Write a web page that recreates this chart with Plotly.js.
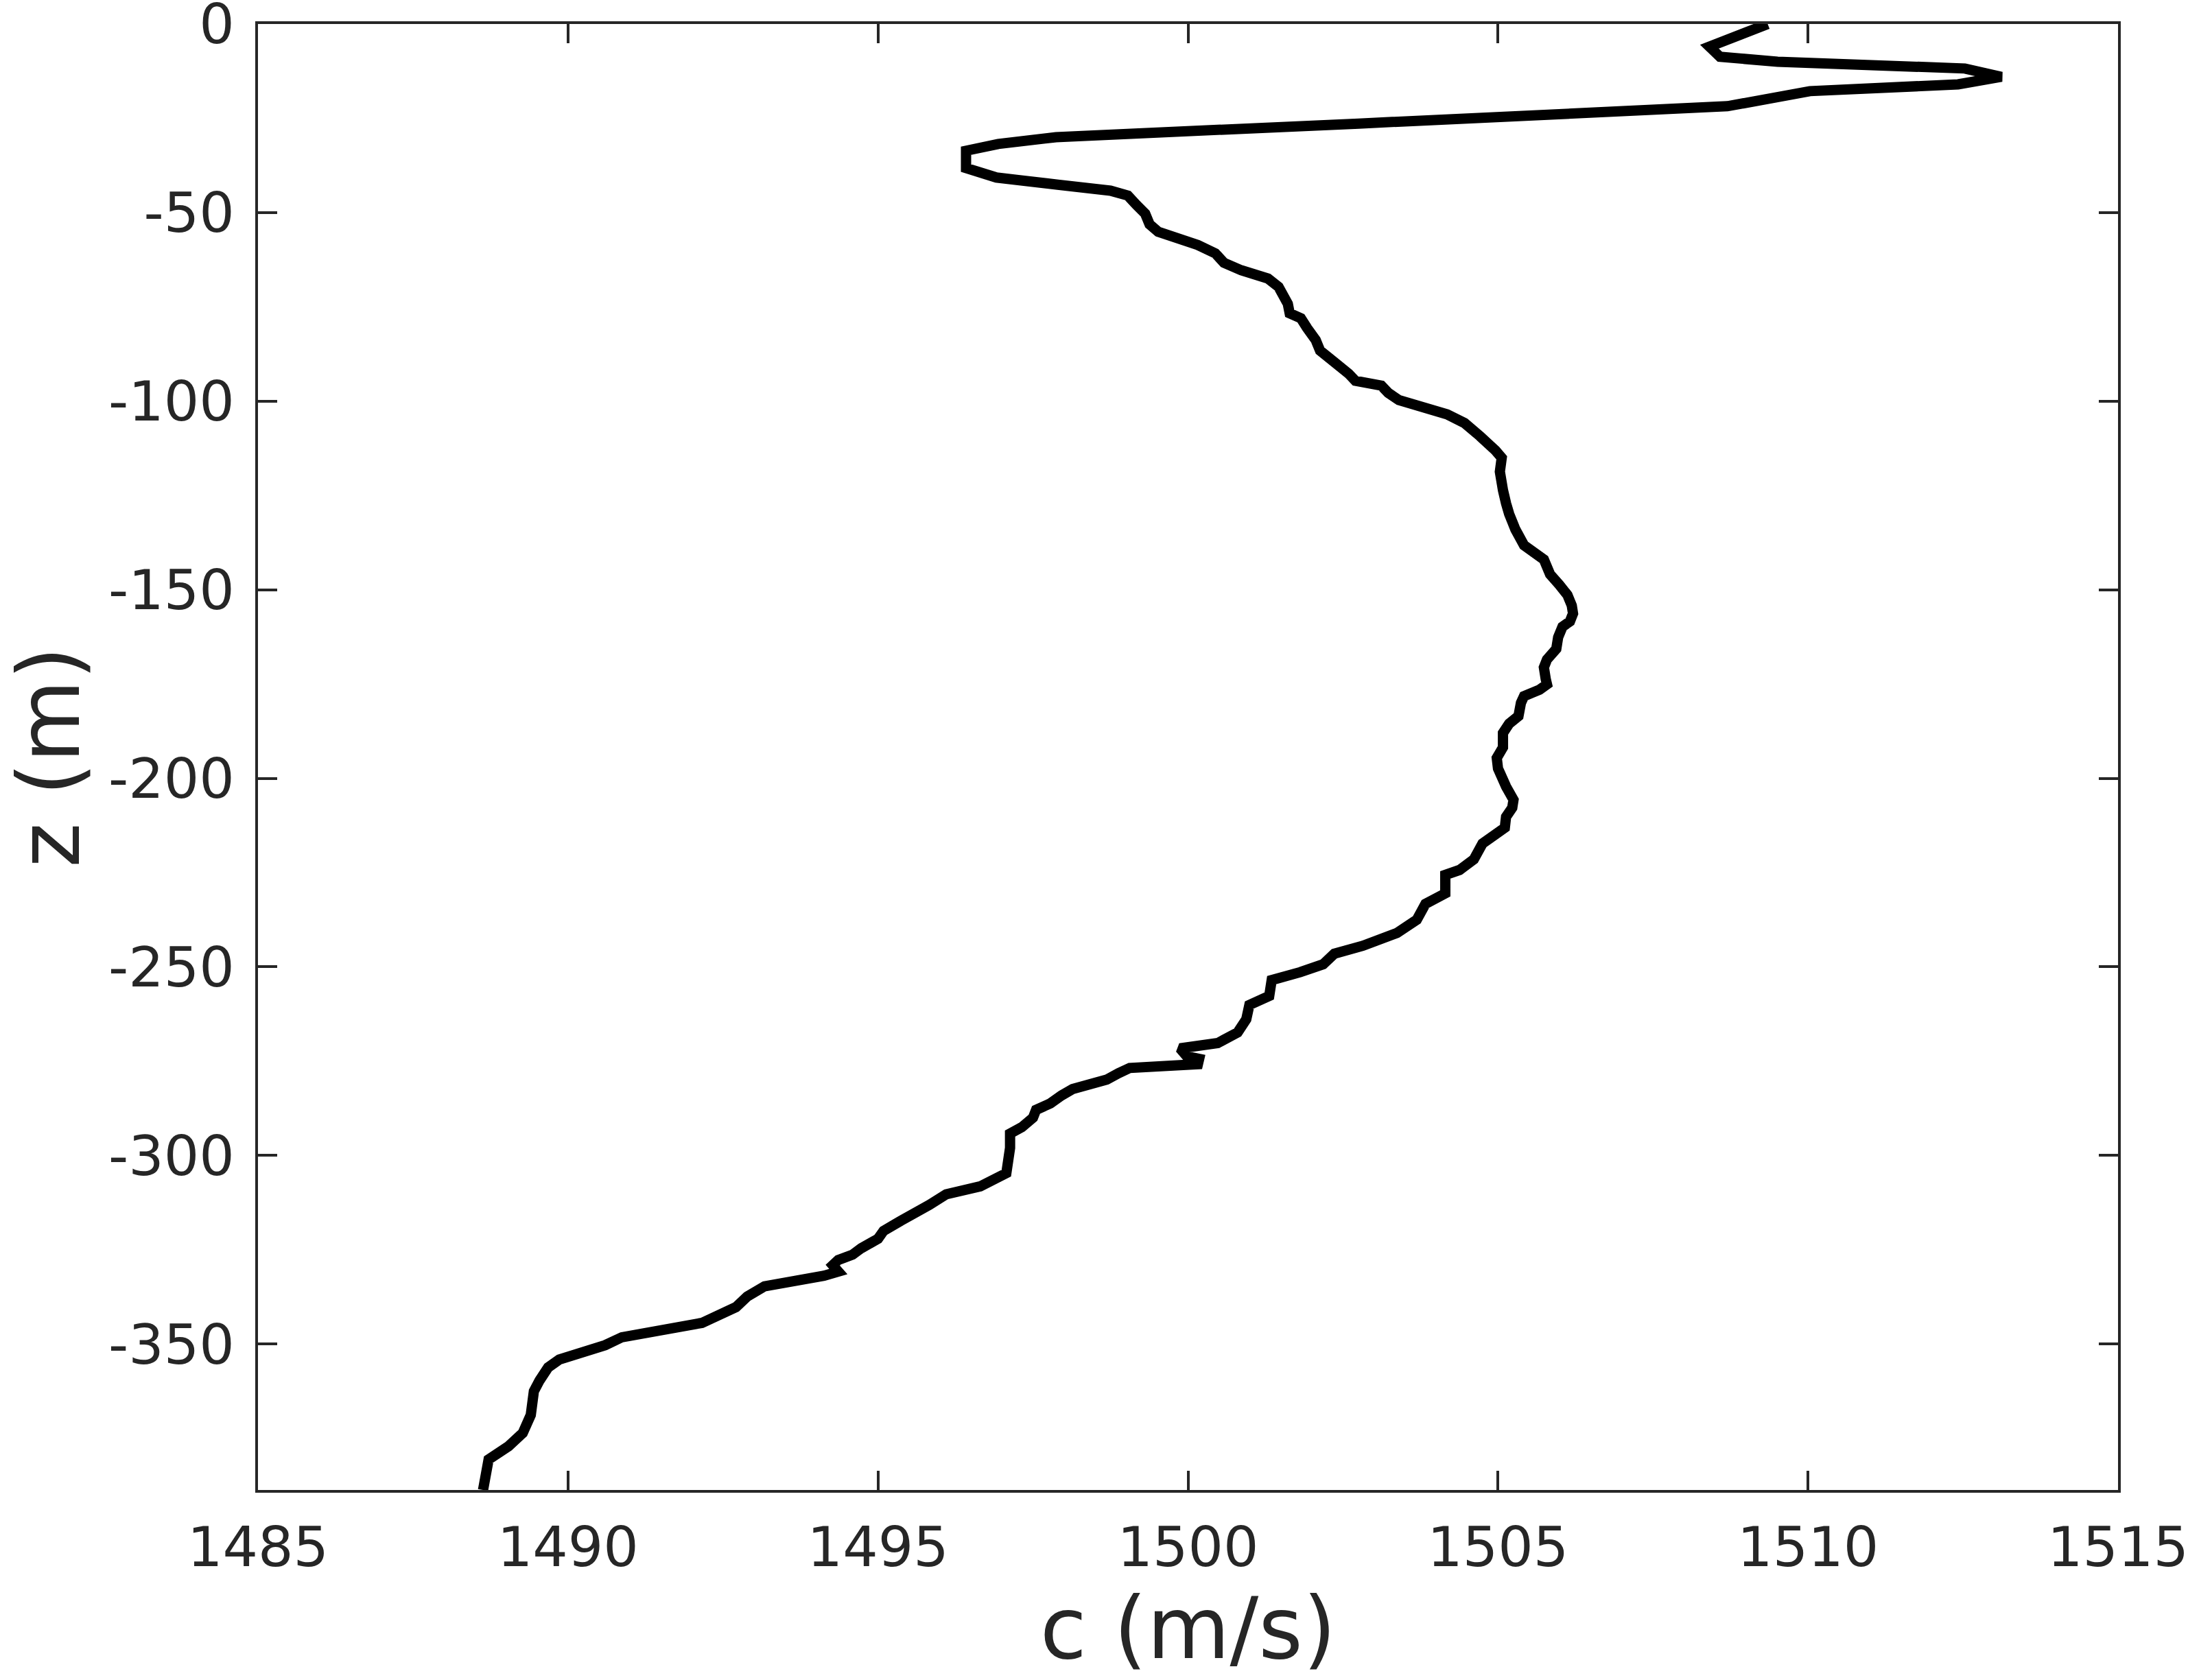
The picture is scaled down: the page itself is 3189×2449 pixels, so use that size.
<!DOCTYPE html>
<html>
<head>
<meta charset="utf-8">
<script src="https://cdn.plot.ly/plotly-3.0.1.min.js"></script>
<style>
  html, body { margin: 0; padding: 0; background: #ffffff; }
  #chart { width: 3189px; height: 2449px; }
</style>
</head>
<body>
<div id="chart"></div>
<script>
// Sound speed profile
const soundSpeed = [
  1509.35, 1508.41, 1508.58, 1509.51, 1512.53, 1513.12, 1512.42, 1510.03, 1508.70, 1502.75,
  1497.87, 1496.94, 1496.42, 1496.42, 1496.91, 1497.90, 1498.75, 1499.03, 1499.17, 1499.31,
  1499.38, 1499.52, 1500.16, 1500.44, 1500.58, 1500.86, 1501.29, 1501.46, 1501.61, 1501.64,
  1501.82, 1501.92, 1502.06, 1502.13, 1502.35, 1502.59, 1502.70, 1503.12, 1503.23, 1503.40,
  1504.18, 1504.46, 1504.71, 1504.96, 1505.06, 1505.03, 1505.08, 1505.13, 1505.18, 1505.28,
  1505.42, 1505.74, 1505.84, 1505.99, 1506.12, 1506.19, 1506.21, 1506.16, 1506.04, 1505.97,
  1505.94, 1505.79, 1505.74, 1505.77, 1505.79, 1505.67, 1505.42, 1505.37, 1505.33, 1505.18,
  1505.08, 1505.08, 1504.98, 1505.00, 1505.13, 1505.25, 1505.23, 1505.13, 1505.11, 1504.93,
  1504.75, 1504.61, 1504.38, 1504.15, 1504.15, 1503.83, 1503.69, 1503.37, 1502.82, 1502.36,
  1502.18, 1501.81, 1501.35, 1501.31, 1500.99, 1500.94, 1500.80, 1500.48, 1499.87, 1499.98,
  1500.18, 1500.16, 1499.06, 1498.88, 1498.69, 1498.14, 1497.96, 1497.78, 1497.55, 1497.50,
  1497.32, 1497.13, 1497.13, 1497.07, 1496.65, 1496.10, 1495.83, 1495.37, 1495.09, 1495.00,
  1494.73, 1494.59, 1494.36, 1494.27, 1494.36, 1494.13, 1493.17, 1492.89, 1492.71, 1492.16,
  1490.87, 1490.60, 1489.86, 1489.68, 1489.54, 1489.45, 1489.40, 1489.27, 1489.04, 1488.72,
  1488.63
];
const depth = [
  0.0, -6.0, -8.7, -10.0, -11.8, -14.0, -16.0, -17.8, -21.8, -26.4,
  -30.0, -31.8, -33.6, -38.2, -40.7, -42.6, -44.2, -45.5, -48.0, -50.3,
  -53.1, -55.1, -58.6, -60.8, -63.3, -65.3, -67.5, -69.7, -74.2, -76.7,
  -78.0, -80.6, -83.8, -86.6, -89.5, -92.7, -94.6, -95.9, -97.8, -99.7,
  -103.5, -105.8, -109.3, -113.1, -115.0, -118.7, -123.6, -127.1, -129.9, -134.0,
  -138.2, -142.0, -145.9, -148.7, -151.4, -154.2, -156.3, -158.4, -159.8, -162.6,
  -165.7, -168.5, -170.6, -173.7, -175.1, -176.5, -178.2, -180.0, -183.5, -185.5,
  -188.0, -191.8, -194.6, -197.4, -202.2, -205.7, -207.8, -210.2, -213.1, -215.2,
  -217.3, -221.5, -224.3, -225.6, -230.5, -233.3, -237.5, -241.0, -244.4, -246.5,
  -249.3, -251.4, -253.5, -257.7, -260.1, -263.9, -267.4, -270.2, -271.6, -273.7,
  -274.4, -275.8, -276.8, -278.2, -279.9, -282.4, -284.1, -286.2, -287.9, -290.0,
  -292.5, -294.2, -298.0, -304.7, -308.2, -310.3, -313.1, -317.3, -320.0, -322.1,
  -324.6, -326.3, -327.7, -329.1, -330.8, -331.9, -334.7, -337.4, -340.2, -344.4,
  -348.2, -350.3, -354.1, -356.2, -359.7, -362.5, -368.8, -373.6, -377.1, -380.6,
  -388.7
];

const xTickVals = [1485, 1490, 1495, 1500, 1505, 1510, 1515];
const xTickText = ["1485", "1490", "1495", "1500", "1505", "1510", "1515"];
const yTickVals = [0, -50, -100, -150, -200, -250, -300, -350];
const yTickText = ["0", "-50", "-100", "-150", "-200", "-250", "-300", "-350"];
const xLabel = "c (m/s)";
const yLabel = "z (m)";

const axisColor = "#262626";
const fontFamily = "DejaVu Sans, sans-serif";

const trace = {
  x: soundSpeed,
  y: depth,
  type: "scatter",
  mode: "lines",
  line: { color: "#000000", width: 15, simplify: false },
  hoverinfo: "skip",
  showlegend: false
};

const commonAxis = {
  showline: true,
  linecolor: axisColor,
  linewidth: 4,
  mirror: "ticks",
  ticks: "inside",
  ticklen: 28,
  tickwidth: 4,
  tickcolor: axisColor,
  showgrid: false,
  zeroline: false,
  ticklabeloverflow: "allow",
  tickfont: { family: fontFamily, size: 81, color: axisColor },
  tickmode: "array"
};

const layout = {
  width: 3189,
  height: 2449,
  paper_bgcolor: "#ffffff",
  plot_bgcolor: "#ffffff",
  margin: { l: 376, r: 102, t: 35, b: 277, pad: 0 },
  showlegend: false,
  xaxis: Object.assign({}, commonAxis, {
    range: [1485, 1515],
    tickvals: xTickVals,
    ticktext: xTickText,
    ticklabelstandoff: 10,
    title: { text: xLabel, font: { family: fontFamily, size: 124, color: axisColor }, standoff: 30 }
  }),
  yaxis: Object.assign({}, commonAxis, {
    range: [-388.7, 0],
    tickvals: yTickVals,
    ticktext: yTickText,
    ticklabelstandoff: 14,
    title: { text: yLabel, font: { family: fontFamily, size: 124, color: axisColor }, standoff: 52 }
  })
};

Plotly.newPlot("chart", [trace], layout, { displayModeBar: false, staticPlot: true });
</script>
</body>
</html>
